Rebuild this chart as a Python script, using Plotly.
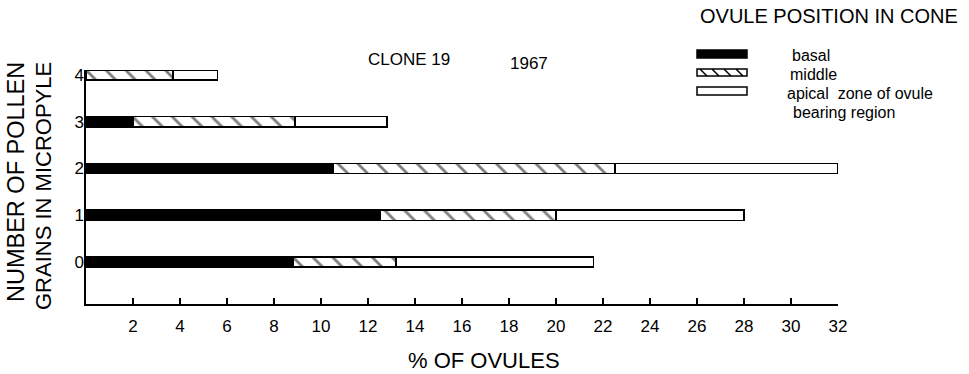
import plotly.graph_objects as go

# Number of pollen grains found in the micropyle
pollen_counts = [0, 1, 2, 3, 4]

# % of ovules in each cone zone (segments stacked left to right)
basal = [8.8, 12.5, 10.5, 2.0, 0.0]
middle = [4.4, 7.5, 12.0, 6.9, 3.7]
apical = [8.4, 8.0, 9.5, 3.9, 1.9]

x_ticks = list(range(2, 33, 2))

W, H = 969, 374
L, R, T, B = 86, 131, 70, 70
FONT = "Liberation Sans, Arial, sans-serif"


def fx(px):
    return (px - L) / (W - L - R)


def fy(py):
    return (H - B - py) / (H - T - B)


line = dict(color="black", width=1.5)
fig = go.Figure()
fig.add_trace(go.Bar(y=pollen_counts, x=basal, orientation="h", name="basal",
                     marker=dict(color="black", line=line), width=0.22))
fig.add_trace(go.Bar(y=pollen_counts, x=middle, orientation="h", name="middle",
                     marker=dict(color="white", line=line,
                                 pattern=dict(shape="\\", fgcolor="black", bgcolor="white",
                                              size=14, solidity=0.2)),
                     width=0.22))
fig.add_trace(go.Bar(y=pollen_counts, x=apical, orientation="h",
                     name="apical zone of ovule bearing region",
                     marker=dict(color="white", line=line), width=0.22))

# legend glyphs
shapes = []
sw_x0, sw_x1 = fx(697), fx(747)
shapes.append(dict(type="rect", xref="paper", yref="paper", x0=sw_x0, x1=sw_x1,
                   y0=fy(58), y1=fy(50), fillcolor="black", line=dict(color="black", width=1.5)))
shapes.append(dict(type="rect", xref="paper", yref="paper", x0=sw_x0, x1=sw_x1,
                   y0=fy(76), y1=fy(69), fillcolor="white", line=dict(color="black", width=1.5)))
for sx in (700, 712, 724, 736):
    shapes.append(dict(type="line", xref="paper", yref="paper", x0=fx(sx), x1=fx(sx + 7),
                       y0=fy(69), y1=fy(76), line=dict(color="black", width=1.5)))
shapes.append(dict(type="rect", xref="paper", yref="paper", x0=sw_x0, x1=sw_x1,
                   y0=fy(95), y1=fy(87), fillcolor="white", line=dict(color="black", width=1.5)))


def ann(text, x, y, size, xanchor="left", angle=0):
    return dict(text=text, x=fx(x), y=fy(y), xref="paper", yref="paper",
                xanchor=xanchor, yanchor="middle", showarrow=False, textangle=angle,
                font=dict(family=FONT, size=size, color="black"))


annotations = [
    ann("CLONE 19", 409, 60, 17, "center"),
    ann("1967", 529, 63, 17, "center"),
    ann("OVULE POSITION IN CONE", 829, 16, 20, "center"),
    ann("basal", 790, 55, 16),
    ann("middle", 788, 74, 16),
    ann("apical  zone of ovule", 785, 93, 16),
    ann("bearing region", 791, 112, 16),
    ann("% OF OVULES", 484, 360, 22, "center"),
    ann("NUMBER OF POLLEN", 16, 182, 23.5, "center", -90),
    ann("GRAINS IN MICROPYLE", 43, 186, 22, "center", -90),
]

fig.update_layout(
    width=W, height=H,
    margin=dict(l=L, r=R, t=T, b=B),
    barmode="stack",
    showlegend=False,
    plot_bgcolor="white", paper_bgcolor="white",
    font=dict(family=FONT, size=17, color="black"),
    shapes=shapes,
    annotations=annotations,
)
fig.update_xaxes(range=[0, 32], tickvals=x_ticks, ticks="inside", ticklen=6, tickwidth=1.5,
                 tickcolor="black", showline=True, linecolor="black", linewidth=1.5,
                 showgrid=False, zeroline=False, ticklabelstandoff=6,
                 tickfont=dict(size=17))
fig.update_yaxes(range=[-0.898, 4.107], tickvals=pollen_counts, ticks="",
                 showline=True, linecolor="black", linewidth=1.5,
                 showgrid=False, zeroline=False, ticklabelstandoff=-3,
                 tickfont=dict(size=17))

fig.write_html("out.html")
